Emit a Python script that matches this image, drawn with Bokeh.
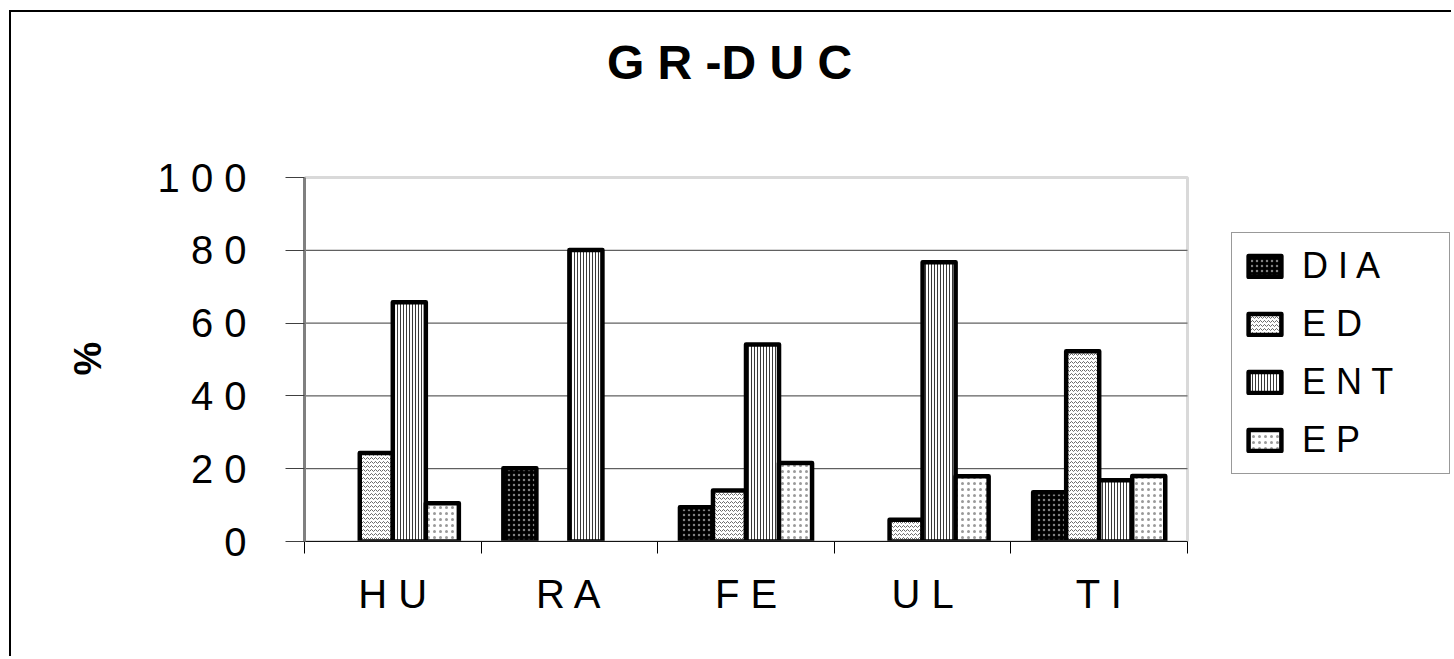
import numpy as np
from bokeh.plotting import figure
from bokeh.models import (ColumnDataSource, Range1d, FixedTicker, Legend, LegendItem,
                          Label, BoxAnnotation, Title)
from bokeh.transform import dodge
from bokeh.embed import file_html
from bokeh.resources import INLINE

# ---------------- data ----------------
title_text = "G R -D U C"
categories = ["H U", "R A", "F E", "U L", "T I"]
series_labels = ["D I A", "E D", "E N T", "E P"]
dia = [0, 20.1, 9.4, 0, 13.5]
ed = [24.3, 0, 14.0, 6.0, 52.3]
ent = [65.7, 80.1, 54.1, 76.7, 16.8]
ep = [10.5, 0, 21.6, 17.9, 18.0]
y_ticks = [0, 20, 40, 60, 80, 100]
y_tick_labels = ["0", "2 0", "4 0", "6 0", "8 0", "1 0 0"]
y_axis_title = "%"

FONT = "Liberation Sans"
n = len(categories)
y_max = y_ticks[-1]

x_center = [i + 0.5 for i in range(n)]
keys = ["dia", "ed", "ent", "ep"]
data = {"x": x_center}
for k, s in zip(keys, [dia, ed, ent, ep]):
    arr = np.array(s, dtype=float)
    data[k] = np.where(arr > 0, arr, np.nan)
source = ColumnDataSource(data)

# layout (pixels): canvas 1442x646, plot area 883 x 364 px
W, H = 1442, 646
frame_left, frame_bottom = 293, 117
area_w, area_h = 883.0, 364.0
x_end = n * (W - frame_left) / area_w
y_end = y_max * (H - frame_bottom) / area_h

p = figure(width=W, height=H,
           x_range=Range1d(0, x_end), y_range=Range1d(0, y_end),
           output_backend="svg", toolbar_location=None,
           min_border_left=frame_left, min_border_right=0,
           min_border_top=0, min_border_bottom=frame_bottom)
p.margin = (10, 0, 0, 9)
p.styles = {"border-left": "2px solid black", "border-top": "2px solid black"}
p.background_fill_color = "white"
p.border_fill_color = "white"
p.outline_line_color = None
p.xgrid.grid_line_color = None
p.ygrid.grid_line_color = None

# horizontal gridlines across the plot area only
grid_y = y_ticks[1:-1]
p.segment(x0=[0] * len(grid_y), x1=[n] * len(grid_y), y0=grid_y, y1=grid_y,
          line_color="#3a3a3a", line_width=1)

bar_w = 0.187
styles = [
    dict(fill_color="black", hatch_pattern="dot", hatch_color="#808080", hatch_scale=5, hatch_weight=1),
    dict(fill_color="white", hatch_pattern="horizontal_wave", hatch_color="#6a6a6a", hatch_scale=4, hatch_weight=1),
    dict(fill_color="white", hatch_pattern="vertical_line", hatch_color="#3a3a3a", hatch_scale=3, hatch_weight=1),
    dict(fill_color="white", hatch_pattern="dot", hatch_color="#9a9a9a", hatch_scale=6, hatch_weight=1),
]
renderers = []
for j, (k, st) in enumerate(zip(keys, styles)):
    r = p.vbar(x=dodge("x", (j - 1.5) * bar_w, range=p.x_range), top=k, bottom=0,
               width=bar_w, source=source, line_color="black", line_width=4.5,
               line_join="round", **st)
    renderers.append(r)

# plot-area border (gray)
p.add_layout(BoxAnnotation(left=0, right=n, bottom=0, top=y_max,
                           fill_alpha=0, line_color="#808080", line_width=3))

# x axis
xa = p.xaxis[0]
xa.bounds = (0, n)
xa.ticker = FixedTicker(ticks=x_center, minor_ticks=list(range(n + 1)))
xa.major_label_overrides = {x: c for x, c in zip(x_center, categories)}
xa.major_tick_line_color = None
xa.major_tick_out = 0
xa.major_tick_in = 0
xa.minor_tick_out = 12
xa.minor_tick_in = 0
xa.minor_tick_line_color = "black"
xa.minor_tick_line_width = 1
xa.axis_line_color = "black"
xa.axis_line_width = 1
xa.major_label_text_font = FONT
xa.major_label_text_font_size = "40px"
xa.major_label_text_color = "black"
xa.major_label_standoff = 18

# y axis
ya = p.yaxis[0]
ya.bounds = (0, y_max)
ya.ticker = FixedTicker(ticks=y_ticks)
ya.major_label_overrides = {t: l for t, l in zip(y_ticks, y_tick_labels)}
ya.major_tick_out = 19
ya.major_tick_in = 0
ya.major_tick_line_color = "#404040"
ya.major_tick_line_width = 1
ya.minor_tick_line_color = None
ya.axis_line_color = "#808080"
ya.axis_line_width = 3
ya.major_label_text_font = FONT
ya.major_label_text_font_size = "40px"
ya.major_label_text_color = "black"
ya.major_label_standoff = 39

# "%" axis title, placed in the left panel beside the axis
p.add_layout(Title(text=y_axis_title, align="left", vertical_align="bottom",
                   offset=166, standoff=92, text_font=FONT, text_font_size="38px",
                   text_font_style="bold", text_color="black"), "left")

# chart title
p.add_layout(Label(x=2.407, y=131.6, text=title_text, text_font=FONT,
                   text_font_size="48px", text_font_style="bold", text_color="black",
                   text_align="center", text_baseline="middle"))

# legend
legend = Legend(items=[LegendItem(label=l, renderers=[r]) for l, r in zip(series_labels, renderers)],
                location=(927, 67))
legend.border_line_color = "#333333"
legend.border_line_width = 1.5
legend.background_fill_color = "white"
legend.background_fill_alpha = 1
legend.padding = 12
legend.spacing = 16
legend.margin = 0
legend.glyph_width = 41
legend.glyph_height = 26
legend.label_height = 30
legend.label_width = 135
legend.label_standoff = 17
legend.label_text_font = FONT
legend.label_text_font_size = "36px"
legend.label_text_color = "black"
p.add_layout(legend, "center")

open("out.html", "w").write(file_html(p, INLINE))
